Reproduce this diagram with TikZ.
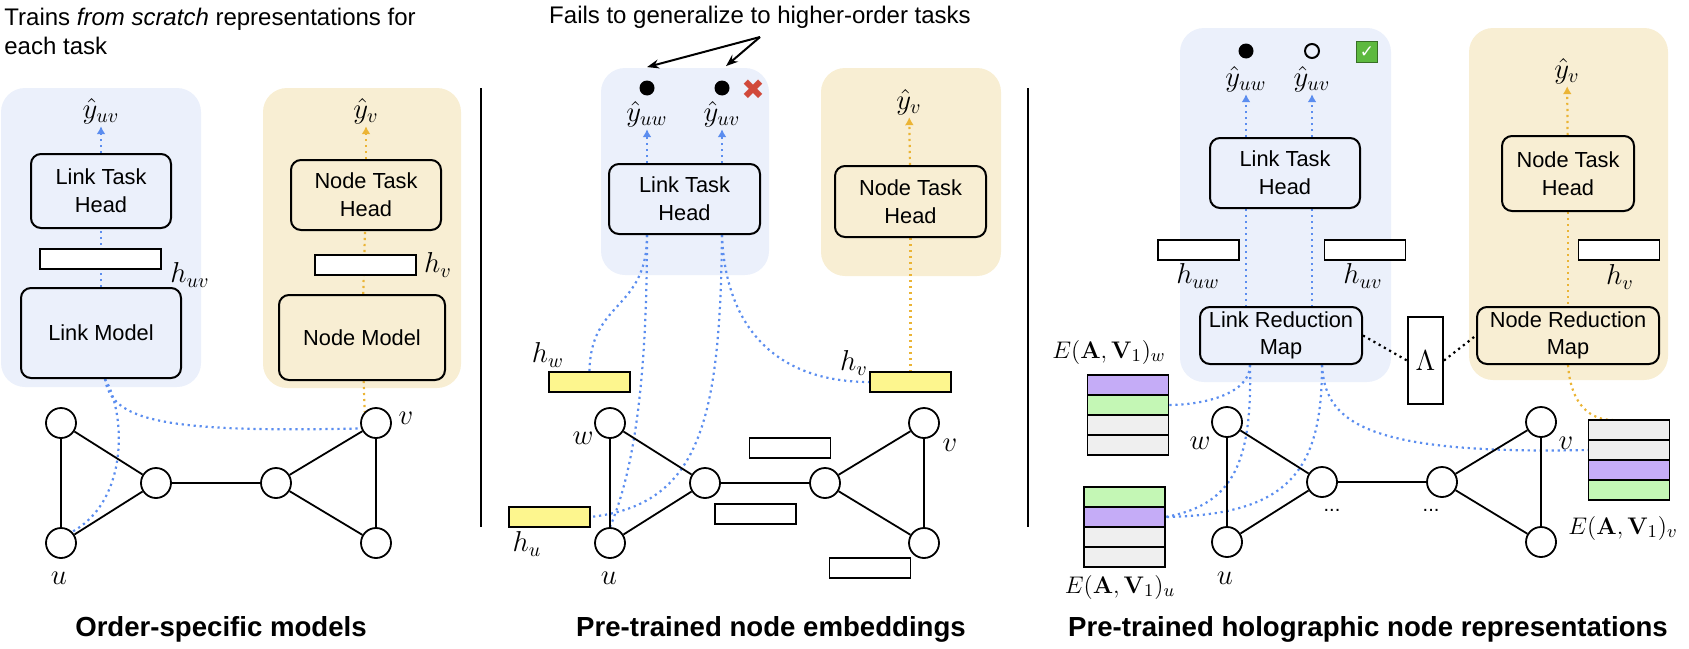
\documentclass[tikz,border=0pt]{standalone}
\usepackage[no-math]{fontspec}
\usepackage{amsmath}
\setmainfont{Liberation Sans}
\newfontfamily\djvfont{DejaVu Sans}
\usetikzlibrary{positioning,arrows.meta,calc}
\definecolor{lblue}{HTML}{EBF0FB}
\definecolor{lyel}{HTML}{F8EED3}
\definecolor{cblue}{HTML}{5B8DEF}
\definecolor{corange}{HTML}{EBB435}
\definecolor{cyel}{HTML}{FDF68E}
\definecolor{cpur}{HTML}{C5ACF7}
\definecolor{cgrn}{HTML}{C4F7B5}
\definecolor{cgray}{HTML}{EFEFEF}
\definecolor{cred}{HTML}{D1493A}
\definecolor{cchk}{HTML}{5DB93F}
\pgfdeclarelayer{back}\pgfdeclarelayer{wires}
\pgfsetlayers{back,wires,main}

\begin{document}
\begin{tikzpicture}[x=0.5pt,y=-0.5pt,>={Latex[length=4pt,width=4.5pt]},
  box/.style={draw,rounded corners=5pt,line width=1pt,align=center,
              font=\fontsize{10.9}{13.8}\selectfont,inner sep=1pt},
  lbox/.style={box,fill=lblue}, nbox/.style={box,fill=lyel},
  vec/.style={draw,line width=0.9pt,minimum width=40.5pt,minimum height=10pt,
              inner sep=0pt,outer sep=0pt,fill=white},
  emb/.style={vec,fill=cyel},
  gnode/.style={circle,draw,line width=0.9pt,minimum size=15pt,inner sep=0pt,fill=white},
  gedge/.style={line width=0.9pt},
  bdot/.style={draw=cblue,line width=1.1pt,dash pattern=on 1.1pt off 1.9pt},
  odot/.style={bdot,draw=corange}, kdot/.style={bdot,draw=black},
  blk/.style={-{Stealth[length=6pt,width=4.5pt]},line width=1pt},
  fdot/.style={circle,fill=black,minimum size=7.5pt,inner sep=0pt},
  hdot/.style={circle,draw,line width=1pt,minimum size=7pt,inner sep=0pt},
  mlab/.style={font=\fontsize{14}{16}\selectfont,inner sep=1pt},
  elab/.style={font=\fontsize{13}{15}\selectfont,inner sep=1pt},
  note/.style={font=\fontsize{12}{14.5}\selectfont},
  ttl/.style={font=\bfseries\fontsize{13.8}{16}\selectfont,anchor=base}]
\useasboundingbox (0,0) rectangle (1689,648);

% panel 1: order-specific models
\begin{pgfonlayer}{back}
\fill[lblue,rounded corners=12pt] (1,88) rectangle (201,387);
\fill[lyel,rounded corners=12pt] (263,88) rectangle (461,388);
\fill[lblue,rounded corners=12pt] (601,68) rectangle (769,275);
\fill[lyel,rounded corners=12pt] (821,68) rectangle (1001,276);
\fill[lblue,rounded corners=12pt] (1180,28) rectangle (1391,382);
\fill[lyel,rounded corners=12pt] (1469,28) rectangle (1668,380);
\end{pgfonlayer}
\node[note,anchor=north west,inner sep=0pt,align=left] (txt1) at (4,8)
  {Trains \emph{from scratch} representations for\\each task};
\node[mlab] (yuv1) at (101,111) {$\hat{y}_{uv}$};
\node[mlab] (yv1) at (366,111) {$\hat{y}_{v}$};
\node[lbox,minimum width=70pt,minimum height=37pt] (lth1) at (101,191) {Link Task\\Head};
\node[vec,minimum width=60.5pt] (huv1) at (100.5,259) {};
\node[mlab] (lhuv1) at (190,275) {$h_{uv}$};
\node[lbox,minimum width=80pt,minimum height=45pt] (lm1) at (101,333) {Link Model};
\node[nbox,minimum width=75pt,minimum height=35pt] (nth1) at (366,195) {Node Task\\Head};
\node[vec,minimum width=50.5pt] (hv1) at (365.5,265) {};
\node[mlab] (lhv1) at (438,265) {$h_{v}$};
\node[nbox,minimum width=83pt,minimum height=42.5pt] (nm1) at (362,337.5) {Node Model};
\node[gnode] (w1) at (61,423) {};
\node[gnode] (u1) at (61,543) {};
\node[gnode] (m1) at (156,483) {};
\node[gnode] (n1) at (276,483) {};
\node[gnode] (v1) at (376,423) {};
\node[gnode] (z1) at (376,543) {};
\draw[gedge] (w1)--(u1) (w1)--(m1) (u1)--(m1) (m1)--(n1) (n1)--(v1) (n1)--(z1) (v1)--(z1);
\node[mlab] (lu1) at (59,578) {$u$};
\node[mlab] (lv1) at (406,418) {$v$};
\node[ttl] (t1) at (221,636) {Order-specific models};
\begin{pgfonlayer}{wires}
\draw[bdot] (lm1)--(lth1);
\draw[bdot,->] (lth1)--(yuv1);
\draw[odot] (nm1)--(nth1);
\draw[odot,->] (nth1)--(yv1);
\draw[bdot] ([xshift=2pt]lm1.south) .. controls +(20,32) and +(58,-32) .. (u1.45);
\draw[bdot] ([xshift=2pt]lm1.south) .. controls (112,420) and (160,433) .. (v1.200);
\draw[odot] (nm1)--(v1.135);
\end{pgfonlayer}

% panel 2: pre-trained node embeddings
\draw[line width=1pt] (481,88) -- (481,527);
\draw[line width=1pt] (1028,88) -- (1028,527);
\node[note,anchor=base] (fails) at (760,24) {Fails to generalize to higher-order tasks};
\coordinate (fk) at (760,37);
\node[fdot] (d1) at (647,88) {};
\node[fdot] (d2) at (722,88) {};
\node[text=cred,font=\djvfont\fontsize{14}{14}\selectfont,inner sep=0pt] (x2) at (753,90) {✖};
\draw[blk] (fk) -- ([yshift=6.5pt]d1.north);
\draw[blk] (fk) -- ([xshift=2pt,yshift=7pt]d2.north);
\node[mlab] (yuw2) at (647,114) {$\hat{y}_{uw}$};
\node[mlab] (yuv2) at (722,114) {$\hat{y}_{uv}$};
\node[mlab] (yv2) at (909,102) {$\hat{y}_{v}$};
\node[lbox,minimum width=75.5pt,minimum height=35pt] (lth2) at (684.5,199) {Link Task\\Head};
\node[nbox,minimum width=75.5pt,minimum height=35.5pt] (nth2) at (910.5,201.5) {Node Task\\Head};
\node[emb] (hw2) at (589.5,382) {};
\node[emb] (hv2) at (910.5,382) {};
\node[emb] (hu2) at (549.5,517) {};
\node[mlab] (lhw2) at (548,355) {$h_{w}$};
\node[mlab] (lhv2) at (854,363) {$h_{v}$};
\node[mlab] (lhu2) at (527,544) {$h_{u}$};
\node[vec] (e2a) at (790,448) {};
\node[vec] (e2b) at (755.5,514) {};
\node[vec] (e2c) at (870,568) {};
\node[gnode] (w2) at (610,423) {};
\node[gnode] (u2) at (610,543) {};
\node[gnode] (m2) at (705,483) {};
\node[gnode] (n2) at (825,483) {};
\node[gnode] (v2) at (924,423) {};
\node[gnode] (z2) at (924,543) {};
\draw[gedge] (w2)--(u2) (w2)--(m2) (u2)--(m2) (m2)--(n2) (n2)--(v2) (n2)--(z2) (v2)--(z2);
\node[mlab] (lw2) at (583,438) {$w$};
\node[mlab] (lu2) at (609,578) {$u$};
\node[mlab] (lv2) at (950,445) {$v$};
\node[ttl] (t2) at (771,636) {Pre-trained node embeddings};
\begin{pgfonlayer}{wires}
\draw[bdot,->] (lth2.north -| yuw2) -- (yuw2);
\draw[bdot,->] (lth2.north -| yuv2) -- (yuv2);
\draw[odot,->] (nth2) -- (yv2);
\draw[odot] (nth2) -- (hv2);
\coordinate (s2a) at (lth2.south -| yuw2);
\coordinate (s2b) at (lth2.south -| yuv2);
\draw[bdot] (s2a) .. controls +(0,76) and +(0.5,-72) .. (hw2.north);
\draw[bdot] (s2a) .. controls +(0,166) and +(20,-48) .. (u2.north);
\draw[bdot] (s2b) .. controls +(-2,186) and +(110,-12) .. (hu2.east);
\draw[bdot] (s2b) .. controls +(3,86) and +(-100,0) .. (hv2.west);
\end{pgfonlayer}

% panel 3: holographic node representations
\node[fdot] (d3a) at (1246,51) {};
\node[hdot] (d3b) at (1312,51) {};
\node[fill=cchk,draw=cchk!60!black,line width=0.4pt,minimum size=10.5pt,inner sep=0pt,
      text=white,font=\djvfont\fontsize{8.5}{8.5}\selectfont] (ok3) at (1367,52) {✓};
\node[mlab] (yuw3) at (1246,79) {$\hat{y}_{uw}$};
\node[mlab] (yuv3) at (1312,79) {$\hat{y}_{uv}$};
\node[mlab] (yv3) at (1567,71) {$\hat{y}_{v}$};
\node[lbox,minimum width=75pt,minimum height=35pt] (lth3) at (1285,173) {Link Task\\Head};
\node[nbox,minimum width=66pt,minimum height=37.5pt] (nth3) at (1568,173.5) {Node Task\\Head};
\node[vec] (huw3) at (1198.5,250) {};
\node[vec] (huv3) at (1365,250) {};
\node[vec] (hv3) at (1619,250) {};
\node[mlab] (lhuw3) at (1198,276) {$h_{uw}$};
\node[mlab] (lhuv3) at (1363,276) {$h_{uv}$};
\node[mlab] (lhv3) at (1620,277) {$h_{v}$};
\node[lbox,minimum width=81pt,minimum height=28.5pt,inner sep=0pt] (lrm3) at (1281,335.5) {Link Reduction\\Map};
\node[nbox,minimum width=91pt,minimum height=28.5pt,inner sep=0pt] (nrm3) at (1568,335.5) {Node Reduction\\Map};
\node[draw,fill=white,line width=1pt,minimum width=17.5pt,minimum height=43.5pt,inner sep=0pt,
      font=\fontsize{14}{16}\selectfont] (lam3) at (1425.5,360.5) {$\Lambda$};
\node[vec,fill=cpur] (sw1) at (1128,385) {};
\node[vec,fill=cgrn,below=0pt of sw1] (sw2) {};
\node[vec,fill=cgray,below=0pt of sw2] (sw3) {};
\node[vec,fill=cgray,below=0pt of sw3] (sw4) {};
\node[vec,fill=cgrn] (su1) at (1124.5,497) {};
\node[vec,fill=cpur,below=0pt of su1] (su2) {};
\node[vec,fill=cgray,below=0pt of su2] (su3) {};
\node[vec,fill=cgray,below=0pt of su3] (su4) {};
\node[vec,fill=cgray] (sv1) at (1629,430) {};
\node[vec,fill=cgray,below=0pt of sv1] (sv2) {};
\node[vec,fill=cpur,below=0pt of sv2] (sv3) {};
\node[vec,fill=cgrn,below=0pt of sv3] (sv4) {};
\node[elab] (lew3) at (1109,352) {$E(\mathbf{A},\mathbf{V}_1)_w$};
\node[elab] (leu3) at (1120,587) {$E(\mathbf{A},\mathbf{V}_1)_u$};
\node[elab,anchor=west] (lev3) at (1566,528) {$E(\mathbf{A},\mathbf{V}_1)_v$};
\node[gnode] (w3) at (1227,422) {};
\node[gnode] (u3) at (1227,542) {};
\node[gnode] (m3) at (1322,482) {};
\node[gnode] (n3) at (1442,482) {};
\node[gnode] (v3) at (1541,422) {};
\node[gnode] (z3) at (1541,542) {};
\draw[gedge] (w3)--(u3) (w3)--(m3) (u3)--(m3) (m3)--(n3) (n3)--(v3) (n3)--(z3) (v3)--(z3);
\node[mlab] (lw3) at (1200,443) {$w$};
\node[mlab] (lu3) at (1225,578) {$u$};
\node[mlab] (lv3) at (1566,443) {$v$};
\node[font=\fontsize{10}{10}\selectfont] (dd3a) at (1332,510) {...};
\node[font=\fontsize{10}{10}\selectfont] (dd3b) at (1431,510) {...};
\node[ttl] (t3) at (1368,636) {Pre-trained holographic node representations};
\begin{pgfonlayer}{wires}
\draw[bdot,->] (lth3.north -| yuw3) -- (yuw3);
\draw[bdot,->] (lth3.north -| yuv3) -- (yuv3);
\draw[bdot] (lth3.south -| yuw3) -- (lrm3.north -| yuw3);
\draw[bdot] (lth3.south -| yuv3) -- (lrm3.north -| yuv3);
\draw[odot,->] (nth3) -- (yv3);
\draw[odot] (nth3) -- (nrm3);
\draw[kdot] (lrm3.east) -- (lam3.west);
\draw[kdot] (lam3.east) -- (nrm3.west);
\coordinate (s3a) at ([xshift=-15.5pt]lrm3.south);
\coordinate (s3b) at ([xshift=20.5pt]lrm3.south);
\draw[bdot] (s3a) .. controls +(0,30) and +(32,0) .. (sw2.east);
\draw[bdot] (s3a) .. controls +(2,95) and +(70,-12) .. (su2.east);
\draw[bdot] (s3b) .. controls +(0,105) and +(125,-2) .. (su2.east);
\draw[bdot] (s3b) .. controls +(3,55) and +(-229,5) .. (sv2.west);
\draw[odot] (nrm3.south) .. controls +(3,41) and +(-22,0) .. ([xshift=-8pt]sv1.north);
\end{pgfonlayer}
\end{tikzpicture}
\end{document}
